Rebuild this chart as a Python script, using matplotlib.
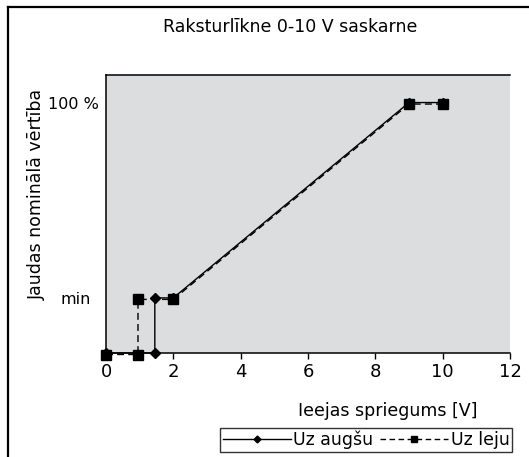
import matplotlib
matplotlib.use("Agg")
import matplotlib.pyplot as plt
from matplotlib.lines import Line2D
from matplotlib import transforms

plt.rcParams['font.family'] = ['DejaVu Sans']

# Characteristic curve of the 0-10 V interface
y_min = 22
x_up = [0, 1.45, 1.45, 2, 9, 10]
y_up = [0, 0, y_min, y_min, 100, 100]
x_down = [0, 0.95, 0.95, 2, 9, 10]
y_down = [0, 0, y_min, y_min, 100, 100]
x_ticks = [0, 2, 4, 6, 8, 10, 12]
y_ticks = [y_min, 100]
y_ticklabels = ["min", "100 %"]

W, H = 529, 457
fig = plt.figure(figsize=(W / 100, H / 100), dpi=100)
ax = fig.add_axes([106 / W, 1 - 353 / H, (510 - 106) / W, (353 - 75) / H])
ax.set_facecolor("#dcdddf")

# dashed curve drawn slightly lower so both traces stay visible
shift = transforms.offset_copy(ax.transData, fig=fig, x=0, y=-1.5, units="dots")
ax.plot(x_down, y_down, color="black", lw=1, ls=(0, (5, 3)), marker="s",
        ms=6.5, transform=shift, clip_on=False, zorder=3, label="Uz leju")
ax.plot(x_up, y_up, color="black", lw=1, ls="-", marker="D",
        ms=5, clip_on=False, zorder=4, label="Uz augšu")

ax.set_xlim(0, 12)
ax.set_ylim(0, 111)
ax.set_xticks(x_ticks)
ax.set_yticks(y_ticks)
ax.set_yticklabels(y_ticklabels)
ax.tick_params(axis="x", length=4, width=1, direction="out", labelsize=13, pad=3)
ax.tick_params(axis="y", length=0, labelsize=11.5, pad=5)

# the "min" label sits a little further from the axis
min_label = ax.get_yticklabels()[0]
min_label.set_transform(min_label.get_transform()
                        + transforms.ScaledTranslation(-8 / 100, 0, fig.dpi_scale_trans))

for side in ("left", "top", "bottom"):
    ax.spines[side].set_linewidth(1.1)
    ax.spines[side].set_color("black")
ax.spines["right"].set_visible(False)

fig.text(290 / W, 1 - 27 / H, "Raksturlīkne 0-10 V saskarne", ha="center",
         va="center", fontsize=12.5)
fig.text(37 / W, 1 - 194 / H, "Jaudas nominālā vērtība", rotation=90,
         ha="center", va="center", fontsize=12.5)
fig.text(388 / W, 1 - 411 / H, "Ieejas spriegums [V]", ha="center",
         va="center", fontsize=12.5)

handles = [
    Line2D([], [], color="black", lw=1, marker="D", ms=3.5),
    Line2D([], [], color="black", lw=1, ls=(0, (4, 2.5)), marker="s", ms=5),
]
leg = fig.legend(handles, ["Uz augšu", "Uz leju"], ncol=2, loc="lower right",
                 bbox_to_anchor=(512 / W, 5 / H), bbox_transform=fig.transFigure,
                 borderaxespad=0, frameon=True, fancybox=False, fontsize=12.5,
                 handlelength=3.9, handletextpad=0.15, columnspacing=0.4,
                 borderpad=0.15)
leg.get_frame().set_edgecolor("black")
leg.get_frame().set_linewidth(1)

# outer frame of the figure
fig.add_artist(Line2D([8 / W, 8 / W], [0, 1 - 7 / H], color="black", lw=1.6,
                      transform=fig.transFigure))
fig.add_artist(Line2D([8 / W, 1], [1 - 7 / H, 1 - 7 / H], color="black", lw=1.6,
                      transform=fig.transFigure))

fig.savefig("out.png", dpi=100)
